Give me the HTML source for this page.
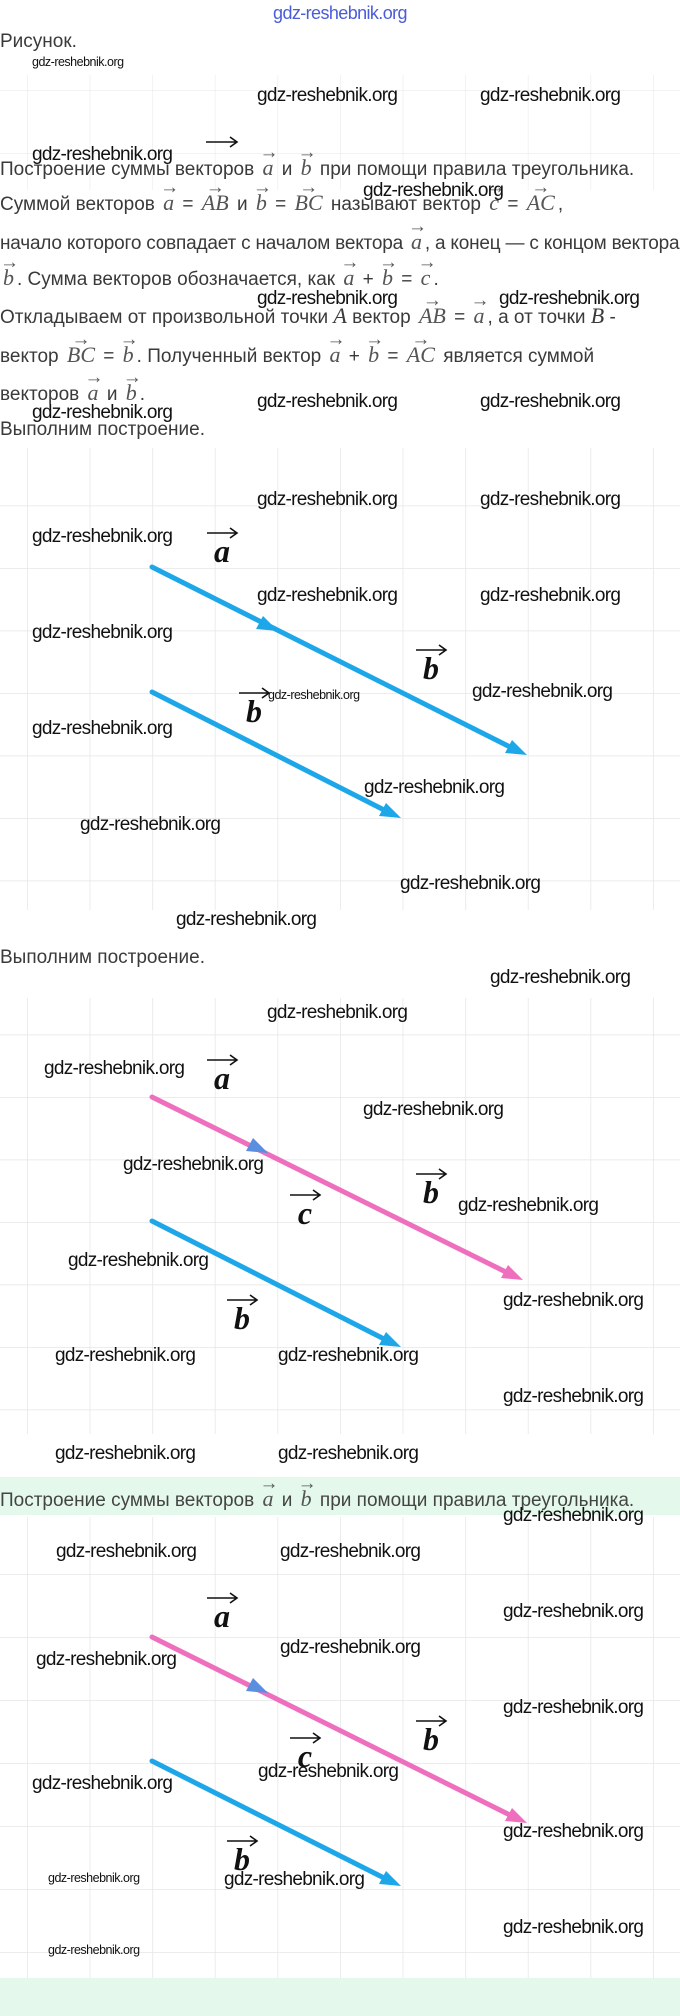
<!DOCTYPE html>
<html><head><meta charset="utf-8"><style>
html,body{margin:0;padding:0;background:#fff;}
body{width:680px;height:2016px;position:relative;overflow:hidden;font-family:"Liberation Sans",sans-serif;}
.t{position:absolute;left:0;white-space:nowrap;font-size:19px;color:#3a3a3a;line-height:24px;letter-spacing:0px;}
.w{position:absolute;white-space:nowrap;font-size:19px;color:#111;letter-spacing:-0.7px;line-height:20px;}
.ws{position:absolute;white-space:nowrap;font-size:12.5px;color:#111;letter-spacing:-0.5px;line-height:14px;}
.v{display:inline-block;position:relative;font-family:"Liberation Serif",serif;font-style:italic;font-size:22px;color:#555;padding:0 3px;}
.v:before{content:"\2192";position:absolute;left:0;right:0;top:-15px;text-align:center;font-style:normal;font-size:19px;}
.band{position:absolute;left:0;width:680px;background:#e4f9ec;}
</style></head><body>
<div class="band" style="top:1477px;height:38px"></div>
<div class="band" style="top:1978px;height:38px"></div>
<svg width="680" height="2016" style="position:absolute;left:0;top:0">
<defs>
<pattern id="g1" x="27" y="443" width="62.6" height="62.5" patternUnits="userSpaceOnUse"><path d="M0 0V62.5M0 0H62.6" stroke="#e6e6e6" stroke-width="1.5" fill="none"/></pattern>
<pattern id="g2" x="27" y="972" width="62.6" height="62.5" patternUnits="userSpaceOnUse"><path d="M0 0V62.5M0 0H62.6" stroke="#e6e6e6" stroke-width="1.5" fill="none"/></pattern>
<pattern id="g3" x="27" y="1511" width="62.6" height="63" patternUnits="userSpaceOnUse"><path d="M0 0V63M0 0H62.6" stroke="#e6e6e6" stroke-width="1.5" fill="none"/></pattern>
<pattern id="g0" x="27" y="90" width="62.6" height="63" patternUnits="userSpaceOnUse"><path d="M0 0V63M0 0H62.6" stroke="#ededed" stroke-width="1.5" fill="none"/></pattern>
</defs>
<rect x="0" y="75" width="680" height="115" fill="url(#g0)"/>
<rect x="0" y="448" width="680" height="462" fill="url(#g1)"/>
<rect x="0" y="998" width="680" height="436" fill="url(#g2)"/>
<rect x="0" y="1517" width="680" height="461" fill="url(#g3)"/>
<g stroke-linecap="round">
<line x1="152" y1="567" x2="518" y2="751" stroke="#1ea7e8" stroke-width="5"/>
<polygon points="527,755 505,753 512,740" fill="#1ea7e8"/>
<polygon points="278,631 256,629 263,616" fill="#1ea7e8"/>
<line x1="152" y1="692" x2="392" y2="814" stroke="#1ea7e8" stroke-width="5"/>
<polygon points="401,818 379,816 386,803" fill="#1ea7e8"/>
<line x1="152" y1="1097" x2="514" y2="1276" stroke="#ee6fbd" stroke-width="5"/>
<polygon points="523,1280 501,1278 508,1265" fill="#ee6fbd"/>
<polygon points="268,1153 246,1151 253,1138" fill="#5a8fe0"/>
<line x1="152" y1="1221" x2="392" y2="1343" stroke="#1ea7e8" stroke-width="5"/>
<polygon points="401,1347 379,1345 386,1332" fill="#1ea7e8"/>
<line x1="152" y1="1637" x2="518" y2="1819" stroke="#ee6fbd" stroke-width="5"/>
<polygon points="527,1823 505,1821 512,1808" fill="#ee6fbd"/>
<polygon points="268,1693 246,1691 253,1678" fill="#5a8fe0"/>
<line x1="152" y1="1761" x2="392" y2="1882" stroke="#1ea7e8" stroke-width="5"/>
<polygon points="401,1886 379,1884 386,1871" fill="#1ea7e8"/>
</g>
<g font-family="Liberation Serif,serif" font-weight="bold" font-style="italic" font-size="32" fill="#111" text-anchor="middle">
<text x="222" y="562">a</text><text x="431" y="679">b</text><text x="254" y="722">b</text>
<text x="222" y="1089">a</text><text x="431" y="1203">b</text><text x="305" y="1224">c</text><text x="242" y="1329">b</text>
<text x="222" y="1627">a</text><text x="431" y="1750">b</text><text x="305" y="1767">c</text><text x="242" y="1870">b</text>
</g>
<g stroke="#111" stroke-width="1.6" fill="none">
<path d="M207 533H236M230 528L237 533L230 538"/><path d="M416 650H445M439 645L446 650L439 655"/><path d="M239 693H268M262 688L269 693L262 698"/>
<path d="M207 1060H236M230 1055L237 1060L230 1065"/><path d="M416 1174H445M439 1169L446 1174L439 1179"/><path d="M290 1195H319M313 1190L320 1195L313 1200"/><path d="M227 1300H256M250 1295L257 1300L250 1305"/>
<path d="M207 1598H236M230 1593L237 1598L230 1603"/><path d="M416 1721H445M439 1716L446 1721L439 1726"/><path d="M290 1738H319M313 1733L320 1738L313 1743"/><path d="M227 1841H256M250 1836L257 1841L250 1846"/>
<path d="M206 142H236M230 137L237 142L230 147"/>
</g>
</svg>

<div style="position:absolute;left:0;width:680px;top:3px;text-align:center;font-size:18px;color:#4a5cd8;letter-spacing:-0.6px;">gdz-reshebnik.org</div>
<div class="t" style="top:30px">Рисунок.</div>

<div class="t" style="top:156px">Построение суммы векторов <span class="v">a</span> и <span class="v">b</span> при помощи правила треугольника.</div>
<div class="t" style="top:191px">Суммой векторов <span class="v">a</span> = <span class="v">AB</span> и <span class="v">b</span> = <span class="v">BC</span> называют вектор <span class="v">c</span> = <span class="v">AC</span>,</div>
<div class="t" style="top:230px;letter-spacing:-0.2px">начало которого совпадает с началом вектора <span class="v">a</span>, а конец — с концом вектора</div>
<div class="t" style="top:266px"><span class="v">b</span>. Сумма векторов обозначается, как <span class="v">a</span> + <span class="v">b</span> = <span class="v">c</span>.</div>
<div class="t" style="top:304px">Откладываем от произвольной точки <i style="font-family:'Liberation Serif',serif;font-size:22px">A</i> вектор <span class="v">AB</span> = <span class="v">a</span>, а от точки <i style="font-family:'Liberation Serif',serif;font-size:22px">B</i> -</div>
<div class="t" style="top:343px">вектор <span class="v">BC</span> = <span class="v">b</span>. Полученный вектор <span class="v">a</span> + <span class="v">b</span> = <span class="v">AC</span> является суммой</div>
<div class="t" style="top:381px">векторов <span class="v">a</span> и <span class="v">b</span>.</div>
<div class="t" style="top:418px">Выполним построение.</div>
<div class="t" style="top:946px">Выполним построение.</div>
<div class="t" style="top:1487px;color:#444">Построение суммы векторов <span class="v">a</span> и <span class="v">b</span> при помощи правила треугольника.</div>

<div class="ws" style="left:32px;top:55px">gdz-reshebnik.org</div>
<div class="w" style="left:257px;top:86px">gdz-reshebnik.org</div>
<div class="w" style="left:480px;top:86px">gdz-reshebnik.org</div>
<div class="w" style="left:32px;top:145px">gdz-reshebnik.org</div>
<div class="w" style="left:363px;top:181px">gdz-reshebnik.org</div>
<div class="w" style="left:257px;top:289px">gdz-reshebnik.org</div>
<div class="w" style="left:499px;top:289px">gdz-reshebnik.org</div>
<div class="w" style="left:257px;top:392px">gdz-reshebnik.org</div>
<div class="w" style="left:480px;top:392px">gdz-reshebnik.org</div>
<div class="w" style="left:32px;top:403px">gdz-reshebnik.org</div>

<div class="w" style="left:257px;top:490px">gdz-reshebnik.org</div>
<div class="w" style="left:480px;top:490px">gdz-reshebnik.org</div>
<div class="w" style="left:32px;top:527px">gdz-reshebnik.org</div>
<div class="w" style="left:257px;top:586px">gdz-reshebnik.org</div>
<div class="w" style="left:480px;top:586px">gdz-reshebnik.org</div>
<div class="w" style="left:32px;top:623px">gdz-reshebnik.org</div>
<div class="w" style="left:472px;top:682px">gdz-reshebnik.org</div>
<div class="ws" style="left:268px;top:688px">gdz-reshebnik.org</div>
<div class="w" style="left:32px;top:719px">gdz-reshebnik.org</div>
<div class="w" style="left:364px;top:778px">gdz-reshebnik.org</div>
<div class="w" style="left:80px;top:815px">gdz-reshebnik.org</div>
<div class="w" style="left:400px;top:874px">gdz-reshebnik.org</div>
<div class="w" style="left:176px;top:910px">gdz-reshebnik.org</div>

<div class="w" style="left:490px;top:968px">gdz-reshebnik.org</div>
<div class="w" style="left:267px;top:1003px">gdz-reshebnik.org</div>
<div class="w" style="left:44px;top:1059px">gdz-reshebnik.org</div>
<div class="w" style="left:363px;top:1100px">gdz-reshebnik.org</div>
<div class="w" style="left:123px;top:1155px">gdz-reshebnik.org</div>
<div class="w" style="left:458px;top:1196px">gdz-reshebnik.org</div>
<div class="w" style="left:68px;top:1251px">gdz-reshebnik.org</div>
<div class="w" style="left:503px;top:1291px">gdz-reshebnik.org</div>
<div class="w" style="left:55px;top:1346px">gdz-reshebnik.org</div>
<div class="w" style="left:278px;top:1346px">gdz-reshebnik.org</div>
<div class="w" style="left:503px;top:1387px">gdz-reshebnik.org</div>
<div class="w" style="left:55px;top:1444px">gdz-reshebnik.org</div>
<div class="w" style="left:278px;top:1444px">gdz-reshebnik.org</div>

<div class="w" style="left:503px;top:1506px">gdz-reshebnik.org</div>
<div class="w" style="left:56px;top:1542px">gdz-reshebnik.org</div>
<div class="w" style="left:280px;top:1542px">gdz-reshebnik.org</div>
<div class="w" style="left:503px;top:1602px">gdz-reshebnik.org</div>
<div class="w" style="left:280px;top:1638px">gdz-reshebnik.org</div>
<div class="w" style="left:36px;top:1650px">gdz-reshebnik.org</div>
<div class="w" style="left:503px;top:1698px">gdz-reshebnik.org</div>
<div class="w" style="left:258px;top:1762px">gdz-reshebnik.org</div>
<div class="w" style="left:32px;top:1774px">gdz-reshebnik.org</div>
<div class="w" style="left:503px;top:1822px">gdz-reshebnik.org</div>
<div class="ws" style="left:48px;top:1871px">gdz-reshebnik.org</div>
<div class="w" style="left:224px;top:1870px">gdz-reshebnik.org</div>
<div class="w" style="left:503px;top:1918px">gdz-reshebnik.org</div>
<div class="ws" style="left:48px;top:1943px">gdz-reshebnik.org</div>
</body></html>
